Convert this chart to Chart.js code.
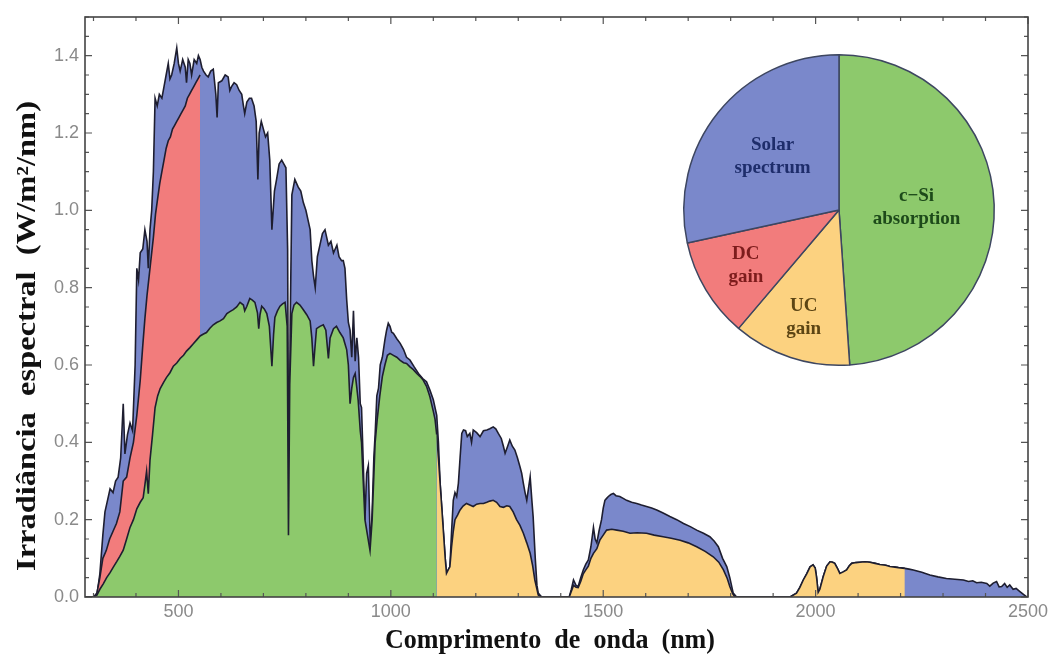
<!DOCTYPE html>
<html><head><meta charset="utf-8">
<script src="https://cdn.jsdelivr.net/npm/chart.js@4.4.1/dist/chart.umd.min.js"></script>
<style>
html,body{margin:0;padding:0;background:#fff;}
#wrap{position:relative;width:1053px;height:664px;overflow:hidden;}
#main{position:absolute;left:0;top:0;}
#pie{position:absolute;left:679px;top:50px;}
</style></head><body>
<div id="wrap"><canvas id="main" width="1053" height="664"></canvas><canvas id="pie" width="320" height="320"></canvas></div>
<script>
// ---------- DATA ----------
// Total solar spectrum (W/m2/nm)
const specX = [280,300,308,315,322,327,333,339,346,352,358,364,370,374,380,386,392,398,402,406,410,416,421,426,429,433,437,441,445,450,455,461,466,471,476,480,484,490,496,500,504,510,516,519,523,527,531,537,543,547,551,555,559,565,570,576,582,588,591,594,602,610,617,621,625,631,637,643,649,653,656,661,667,672,678,683,687,690,695,700,705,710,715,720,726,731,737,743,748,753,757,760,763,767,774,782,788,794,800,806,810,814,818,822,827,833,839,845,849,853,859,865,869,873,878,884,888,892,896,900,904,908,912,916,920,924,928,931,935,939,943,947,952,956,960,963,967,971,975,980,986,990,994,998,1002,1006,1014,1022,1030,1037,1045,1055,1065,1075,1084,1092,1100,1108,1112,1116,1120,1124,1128,1131,1135,1139,1143,1147,1151,1155,1159,1163,1167,1171,1176,1180,1186,1190,1194,1202,1210,1218,1226,1233,1241,1247,1253,1260,1265,1269,1275,1280,1286,1292,1298,1304,1308,1312,1316,1320,1324,1328,1332,1335,1340,1344,1347,1355,1420,1425,1430,1436,1441,1447,1453,1459,1465,1471,1477,1481,1485,1490,1496,1500,1504,1508,1512,1518,1524,1530,1539,1547,1555,1567,1579,1590,1602,1614,1626,1641,1657,1673,1689,1705,1720,1736,1751,1761,1771,1781,1791,1798,1806,1814,1940,1955,1963,1971,1979,1987,1994,1999,2002,2006,2010,2018,2026,2034,2040,2045,2051,2057,2065,2073,2079,2085,2095,2104,2116,2128,2140,2151,2165,2175,2183,2195,2210,2220,2230,2250,2269,2288,2308,2328,2348,2360,2370,2379,2390,2403,2410,2418,2426,2432,2438,2445,2451,2457,2465,2472,2481,2490,2497,2500];
const specY = [0,0,0.005,0.06,0.16,0.22,0.25,0.28,0.27,0.30,0.31,0.36,0.50,0.37,0.42,0.45,0.43,0.60,0.85,0.82,0.89,0.90,0.95,0.92,0.85,0.95,1.00,1.10,1.29,1.27,1.30,1.29,1.32,1.35,1.38,1.34,1.35,1.38,1.42,1.38,1.36,1.39,1.37,1.33,1.39,1.38,1.35,1.39,1.38,1.40,1.39,1.37,1.36,1.35,1.345,1.36,1.365,1.30,1.24,1.33,1.335,1.35,1.345,1.31,1.32,1.33,1.325,1.31,1.30,1.27,1.25,1.28,1.29,1.29,1.27,1.23,1.08,1.20,1.23,1.21,1.19,1.20,1.13,0.95,1.05,1.08,1.12,1.13,1.12,1.11,0.90,0.16,0.70,1.04,1.08,1.06,1.05,1.02,1.00,0.97,0.95,0.87,0.83,0.80,0.88,0.91,0.94,0.95,0.93,0.91,0.92,0.89,0.90,0.91,0.88,0.87,0.87,0.85,0.77,0.71,0.69,0.62,0.74,0.61,0.67,0.62,0.50,0.49,0.35,0.20,0.32,0.34,0.12,0.22,0.36,0.42,0.52,0.54,0.60,0.62,0.665,0.69,0.708,0.70,0.685,0.682,0.668,0.656,0.64,0.62,0.613,0.595,0.578,0.565,0.557,0.535,0.51,0.47,0.40,0.294,0.23,0.165,0.10,0.061,0.07,0.078,0.17,0.25,0.27,0.26,0.294,0.36,0.423,0.432,0.43,0.415,0.423,0.40,0.432,0.425,0.415,0.43,0.432,0.435,0.44,0.435,0.423,0.41,0.39,0.372,0.39,0.406,0.39,0.38,0.36,0.337,0.32,0.294,0.27,0.25,0.28,0.311,0.25,0.208,0.10,0.03,0.01,0,0,0.02,0.044,0.03,0.027,0.05,0.07,0.085,0.096,0.13,0.18,0.15,0.14,0.17,0.20,0.23,0.25,0.255,0.26,0.265,0.268,0.262,0.26,0.255,0.25,0.245,0.242,0.238,0.234,0.23,0.225,0.217,0.208,0.20,0.19,0.182,0.173,0.165,0.156,0.145,0.13,0.10,0.078,0.05,0.01,0,0,0.01,0.025,0.044,0.06,0.078,0.083,0.075,0.053,0.012,0.02,0.053,0.08,0.091,0.09,0.087,0.075,0.061,0.065,0.07,0.08,0.087,0.089,0.09,0.091,0.09,0.087,0.084,0.082,0.079,0.078,0.076,0.074,0.072,0.07,0.064,0.057,0.052,0.048,0.046,0.044,0.040,0.042,0.037,0.038,0.035,0.028,0.036,0.04,0.026,0.027,0.035,0.025,0.031,0.02,0.022,0.014,0.006,0,0];

// c-Si absorption (green)
const siX = [280,300,308,315,323,331,339,347,355,362,370,378,386,394,402,410,417,421,425,429,433,439,445,451,457,465,472,480,488,496,504,512,519,527,535,543,551,559,566,574,582,590,598,606,614,621,629,637,645,653,656,661,668,674,680,686,689,692,696,702,708,714,720,724,727,733,739,745,751,756,759,762,767,772,778,786,794,802,810,814,818,821,825,833,841,847,853,857,865,872,880,888,896,900,904,908,912,916,920,923,928,931,935,939,945,951,956,963,968,974,980,986,992,998,1006,1014,1022,1030,1037,1045,1053,1061,1069,1076,1084,1092,1100,1104,1108];
const siY = [0,0,0.005,0.02,0.034,0.05,0.063,0.078,0.092,0.105,0.121,0.15,0.18,0.20,0.228,0.245,0.257,0.29,0.325,0.267,0.354,0.42,0.49,0.52,0.539,0.555,0.568,0.58,0.597,0.605,0.617,0.625,0.636,0.645,0.655,0.665,0.675,0.68,0.684,0.695,0.704,0.71,0.714,0.72,0.733,0.738,0.743,0.75,0.762,0.755,0.74,0.752,0.772,0.768,0.762,0.735,0.694,0.73,0.752,0.745,0.733,0.70,0.597,0.68,0.723,0.74,0.752,0.758,0.762,0.70,0.16,0.55,0.733,0.755,0.762,0.755,0.743,0.73,0.714,0.67,0.597,0.64,0.694,0.70,0.704,0.69,0.617,0.67,0.694,0.70,0.684,0.67,0.64,0.60,0.50,0.54,0.568,0.578,0.54,0.51,0.43,0.40,0.30,0.20,0.16,0.12,0.20,0.40,0.46,0.52,0.57,0.60,0.625,0.63,0.625,0.62,0.612,0.606,0.604,0.595,0.588,0.578,0.57,0.561,0.545,0.518,0.48,0.46,0.42];

// Down-conversion gain (red, top boundary)
const dcX = [300,308,315,322,330,338,346,354,362,370,378,386,394,402,410,416,421,426,431,436,441,446,451,456,461,466,471,476,481,486,491,496,501,506,511,516,521,526,531,536,541,546,551];
const dcY = [0,0.01,0.05,0.10,0.12,0.15,0.17,0.19,0.22,0.30,0.31,0.36,0.40,0.47,0.56,0.65,0.72,0.78,0.83,0.88,0.93,0.99,1.03,1.07,1.10,1.13,1.16,1.18,1.19,1.21,1.22,1.23,1.24,1.25,1.26,1.27,1.29,1.30,1.31,1.32,1.33,1.34,1.35];

// Up-conversion gain (yellow, top boundary)
const ucX = [1108,1112,1116,1120,1124,1128,1131,1135,1139,1143,1147,1151,1157,1163,1170,1178,1186,1194,1202,1210,1218,1226,1233,1241,1249,1257,1265,1273,1280,1288,1296,1304,1312,1320,1328,1334,1339,1344,1347,1355,1420,1425,1430,1436,1441,1447,1453,1459,1465,1471,1477,1485,1492,1500,1508,1520,1532,1547,1563,1580,1602,1620,1641,1660,1681,1700,1720,1740,1759,1772,1783,1792,1798,1805,1810,1940,1955,1963,1971,1979,1987,1994,1999,2002,2006,2010,2018,2026,2034,2040,2045,2051,2057,2065,2073,2079,2085,2095,2104,2116,2128,2140,2151,2165,2175,2183,2195,2210];
const ucY = [0.42,0.36,0.294,0.23,0.165,0.10,0.061,0.07,0.078,0.13,0.17,0.20,0.212,0.225,0.235,0.242,0.238,0.234,0.24,0.242,0.242,0.245,0.248,0.25,0.245,0.234,0.232,0.236,0.234,0.22,0.20,0.185,0.165,0.14,0.113,0.08,0.044,0.02,0.005,0,0,0.015,0.03,0.025,0.024,0.04,0.06,0.07,0.08,0.10,0.113,0.125,0.147,0.16,0.173,0.175,0.173,0.17,0.165,0.166,0.165,0.16,0.156,0.152,0.147,0.14,0.13,0.118,0.104,0.09,0.07,0.048,0.027,0.008,0,0,0.01,0.025,0.044,0.06,0.078,0.083,0.075,0.053,0.012,0.02,0.053,0.08,0.091,0.09,0.087,0.075,0.061,0.065,0.07,0.08,0.087,0.089,0.09,0.091,0.09,0.087,0.084,0.082,0.079,0.078,0.076,0.074];

// Axis ticks
const xTicks = [500,1000,1500,2000,2500];
const yTicks = [0,0.2,0.4,0.6,0.8,1.0,1.2,1.4];
const yTickLabels = ["0.0","0.2","0.4","0.6","0.8","1.0","1.2","1.4"];

// Pie (share of spectrum)
const pieLabels = [["c\u2212Si","absorption"],["UC","gain"],["DC","gain"],["Solar","spectrum"]];
const pieValues = [48.9,12.3,10.4,28.4];

// ---------- STYLE ----------
const GREEN = '#8dc96c', YELLOW = '#fcd280', RED = '#f27c7c', BLUE = '#7a88cb';
const LINE = '#1e1e30';
const pieTextColors = ['#1d4a1a','#5c4514','#7d1c1c','#1e2d6b'];
const pieLabelRadius = [0.5,0.73,0.70,0.55];

const toPts = (xs, ys) => xs.map((x, i) => ({x: x, y: ys[i]}));

const framePlugin = {
  id: 'frame',
  afterDatasetsDraw(chart) {
    const ctx = chart.ctx, a = chart.chartArea, x = chart.scales.x, y = chart.scales.y;
    ctx.save();
    ctx.strokeStyle = '#555';
    ctx.lineWidth = 1.2;
    ctx.beginPath();
    for (let v = 300; v <= 2500; v += 100) {
      const px = x.getPixelForValue(v);
      const len = (v % 500 === 0) ? 7 : 4;
      ctx.moveTo(px, a.bottom); ctx.lineTo(px, a.bottom - len);
      ctx.moveTo(px, a.top); ctx.lineTo(px, a.top + len);
    }
    for (let k = 0; k <= 30; k++) {
      const py = y.getPixelForValue(k * 0.05);
      const len = (k % 4 === 0) ? 7 : 4;
      ctx.moveTo(a.left, py); ctx.lineTo(a.left + len, py);
      ctx.moveTo(a.right, py); ctx.lineTo(a.right - len, py);
    }
    ctx.stroke();
    ctx.lineWidth = 1.6;
    ctx.strokeStyle = '#444';
    ctx.strokeRect(a.left, a.top, a.right - a.left, a.bottom - a.top);
    ctx.restore();
  }
};

function drawFitted(ctx, text, cx, cy, targetW, rot) {
  ctx.save();
  ctx.translate(cx, cy);
  ctx.rotate(rot);
  const w = ctx.measureText(text).width;
  ctx.scale(targetW / w, 1);
  ctx.fillText(text, 0, 0);
  ctx.restore();
}

const titlePlugin = {
  id: 'titles',
  afterDraw(chart) {
    const ctx = chart.ctx;
    ctx.save();
    ctx.fillStyle = '#111';
    ctx.font = 'bold 27px "Liberation Serif", "Times New Roman", serif';
    ctx.textAlign = 'center';
    ctx.textBaseline = 'middle';
    drawFitted(ctx, 'Comprimento  de  onda  (nm)', 550, 641, 330, 0);
    drawFitted(ctx, 'Irradi\u00e2ncia  espectral  (W/m\u00b2/nm)', 28, 336, 470, -Math.PI / 2);
    ctx.restore();
  }
};

new Chart(document.getElementById('main'), {
  type: 'line',
  data: {
    datasets: [
      {label: 'c-Si absorption', data: toPts(siX, siY), backgroundColor: GREEN, borderColor: LINE, fill: 'origin'},
      {label: 'UC gain', data: toPts(ucX, ucY), backgroundColor: YELLOW, borderColor: LINE, fill: 'origin'},
      {label: 'DC gain', data: toPts(dcX, dcY), backgroundColor: RED, borderColor: LINE, fill: 'origin'},
      {label: 'Solar spectrum', data: toPts(specX, specY), backgroundColor: BLUE, borderColor: LINE, fill: 'origin'}
    ]
  },
  options: {
    responsive: false, animation: false, devicePixelRatio: 1,
    layout: {padding: {top: 17, right: 25, left: 0, bottom: 0}},
    elements: {point: {radius: 0, hoverRadius: 0}, line: {tension: 0, borderWidth: 1.6}},
    plugins: {legend: {display: false}, tooltip: {enabled: false}},
    scales: {
      x: {
        type: 'linear', min: 280, max: 2500,
        grid: {display: false}, border: {display: false},
        afterBuildTicks: s => { s.ticks = xTicks.map(v => ({value: v})); },
        afterFit: s => { s.height = 67; },
        ticks: {color: '#8a8a8a', font: {family: '"Liberation Sans", Arial, sans-serif', size: 18}, padding: -4, maxRotation: 0, autoSkip: false, callback: v => String(v)}
      },
      y: {
        type: 'linear', min: 0, max: 1.5,
        grid: {display: false}, border: {display: false},
        afterBuildTicks: s => { s.ticks = yTicks.map(v => ({value: v})); },
        afterFit: s => { s.width = 85; },
        ticks: {color: '#8a8a8a', font: {family: '"Liberation Sans", Arial, sans-serif', size: 18}, padding: -2, autoSkip: false, callback: (v, i) => yTickLabels[i]}
      }
    }
  },
  plugins: [framePlugin, titlePlugin]
});

const pieLabelPlugin = {
  id: 'pieLabels',
  afterDatasetsDraw(chart) {
    const ctx = chart.ctx;
    const meta = chart.getDatasetMeta(0);
    ctx.save();
    ctx.font = 'bold 19px "Liberation Serif", "Times New Roman", serif';
    ctx.textAlign = 'center';
    ctx.textBaseline = 'middle';
    meta.data.forEach((arc, i) => {
      const p = arc.getProps(['x', 'y', 'startAngle', 'endAngle', 'outerRadius'], true);
      const mid = (p.startAngle + p.endAngle) / 2;
      const r = p.outerRadius * pieLabelRadius[i];
      const cx = p.x + Math.cos(mid) * r, cy = p.y + Math.sin(mid) * r;
      const lines = pieLabels[i];
      ctx.fillStyle = pieTextColors[i];
      lines.forEach((t, j) => ctx.fillText(t, cx, cy + (j - (lines.length - 1) / 2) * 23));
    });
    ctx.restore();
  }
};

new Chart(document.getElementById('pie'), {
  type: 'pie',
  data: {
    labels: pieLabels.map(l => l.join(' ')),
    datasets: [{data: pieValues, backgroundColor: [GREEN, YELLOW, RED, BLUE], borderColor: '#3d4660', borderWidth: 1.5}]
  },
  options: {
    responsive: false, animation: false, devicePixelRatio: 1,
    layout: {padding: 4},
    plugins: {legend: {display: false}, tooltip: {enabled: false}}
  },
  plugins: [pieLabelPlugin]
});
</script>
</body></html>
